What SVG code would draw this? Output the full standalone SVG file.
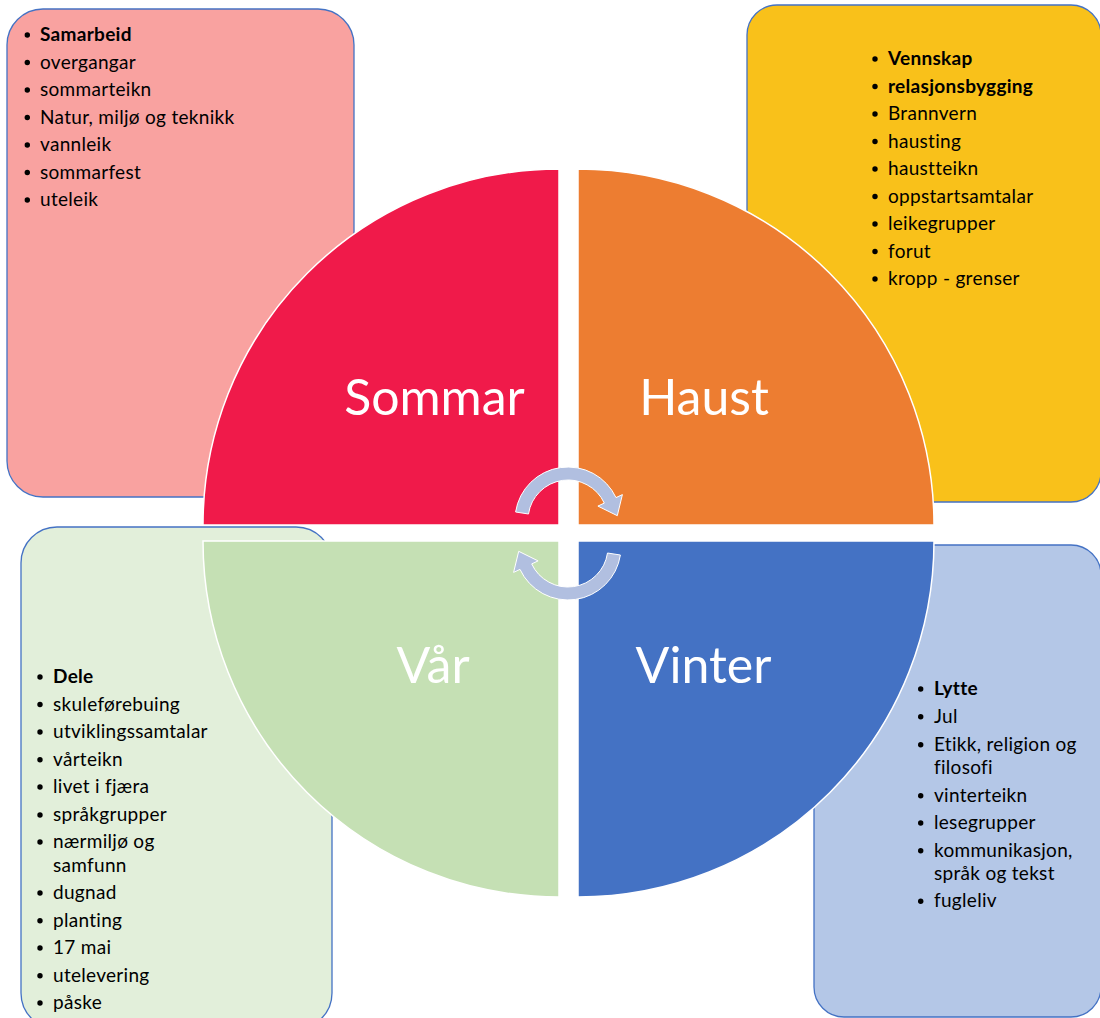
<svg xmlns="http://www.w3.org/2000/svg" width="1100" height="1018" viewBox="0 0 1100 1018">
<style>
.box{stroke:#4472C4;stroke-width:1.3}
.q{stroke:#FFFFFF;stroke-width:1.5}
.lst{font-family:Lato,"Liberation Sans",sans-serif;font-size:19px;letter-spacing:0.3px;fill:#000000}
.b{font-weight:bold}
.big{font-family:Lato,"Liberation Sans",sans-serif;font-size:50px;fill:#FFFFFF;text-anchor:middle}
.dot{fill:#000000}
.arr{fill:#B1BFE0;stroke:#FFFFFF;stroke-width:1}
</style>
<defs>
<path id="carrow" d="M 515.6 512 A 53 53 0 0 1 616 497.6 L 622.4 494.6 L 617.3 515.7 L 597.9 506.1 L 604.3 503.1 A 40 40 0 0 0 528.5 514 Z"/>
</defs>
<g id="sommar-box">
<rect class="box" x="7" y="9" width="347" height="488" rx="36" ry="36" fill="#F9A2A0"/>
<g class="lst">
<circle class="dot" cx="27.3" cy="35" r="2.7"/><text x="40" y="41" class="b">Samarbeid</text>
<circle class="dot" cx="27.3" cy="62.5" r="2.7"/><text x="40" y="68.5">overgangar</text>
<circle class="dot" cx="27.3" cy="90" r="2.7"/><text x="40" y="96">sommarteikn</text>
<circle class="dot" cx="27.3" cy="117.5" r="2.7"/><text x="40" y="123.5">Natur, miljø og teknikk</text>
<circle class="dot" cx="27.3" cy="145" r="2.7"/><text x="40" y="151">vannleik</text>
<circle class="dot" cx="27.3" cy="172.5" r="2.7"/><text x="40" y="178.5">sommarfest</text>
<circle class="dot" cx="27.3" cy="200" r="2.7"/><text x="40" y="206">uteleik</text>
</g>
</g>
<g id="haust-box">
<rect class="box" x="747" y="5" width="354" height="497" rx="30" ry="30" fill="#F9C11A"/>
<g class="lst">
<circle class="dot" cx="875" cy="59" r="2.7"/><text x="888" y="65" class="b">Vennskap</text>
<circle class="dot" cx="875" cy="86.5" r="2.7"/><text x="888" y="92.5" class="b">relasjonsbygging</text>
<circle class="dot" cx="875" cy="114" r="2.7"/><text x="888" y="120">Brannvern</text>
<circle class="dot" cx="875" cy="141.5" r="2.7"/><text x="888" y="147.5">hausting</text>
<circle class="dot" cx="875" cy="169" r="2.7"/><text x="888" y="175">haustteikn</text>
<circle class="dot" cx="875" cy="196.5" r="2.7"/><text x="888" y="202.5">oppstartsamtalar</text>
<circle class="dot" cx="875" cy="224" r="2.7"/><text x="888" y="230">leikegrupper</text>
<circle class="dot" cx="875" cy="251.5" r="2.7"/><text x="888" y="257.5">forut</text>
<circle class="dot" cx="875" cy="279" r="2.7"/><text x="888" y="285">kropp - grenser</text>
</g>
</g>
<g id="var-box">
<rect class="box" x="21" y="527" width="311" height="502" rx="36" ry="36" fill="#E2EFDA"/>
<g class="lst">
<circle class="dot" cx="40" cy="677" r="2.7"/><text x="53" y="683" class="b">Dele</text>
<circle class="dot" cx="40" cy="704.5" r="2.7"/><text x="53" y="710.5">skuleførebuing</text>
<circle class="dot" cx="40" cy="732" r="2.7"/><text x="53" y="738">utviklingssamtalar</text>
<circle class="dot" cx="40" cy="759.7" r="2.7"/><text x="53" y="765.7">vårteikn</text>
<circle class="dot" cx="40" cy="787" r="2.7"/><text x="53" y="793">livet i fjæra</text>
<circle class="dot" cx="40" cy="815" r="2.7"/><text x="53" y="821">språkgrupper</text>
<circle class="dot" cx="40" cy="842" r="2.7"/><text x="53" y="848">nærmiljø og</text>
<text x="53" y="871.7">samfunn</text>
<circle class="dot" cx="40" cy="893" r="2.7"/><text x="53" y="899">dugnad</text>
<circle class="dot" cx="40" cy="920.7" r="2.7"/><text x="53" y="926.7">planting</text>
<circle class="dot" cx="40" cy="948" r="2.7"/><text x="53" y="954">17 mai</text>
<circle class="dot" cx="40" cy="975.7" r="2.7"/><text x="53" y="981.7">utelevering</text>
<circle class="dot" cx="40" cy="1003" r="2.7"/><text x="53" y="1009">påske</text>
</g>
</g>
<g id="vinter-box">
<rect class="box" x="814" y="545" width="287" height="472" rx="30" ry="30" fill="#B4C7E7"/>
<g class="lst">
<circle class="dot" cx="920.7" cy="689" r="2.7"/><text x="934" y="695" class="b">Lytte</text>
<circle class="dot" cx="920.7" cy="716.7" r="2.7"/><text x="934" y="722.7">Jul</text>
<circle class="dot" cx="920.7" cy="744.7" r="2.7"/><text x="934" y="750.7">Etikk, religion og</text>
<text x="934" y="774">filosofi</text>
<circle class="dot" cx="920.7" cy="795.7" r="2.7"/><text x="934" y="801.7">vinterteikn</text>
<circle class="dot" cx="920.7" cy="823" r="2.7"/><text x="934" y="829">lesegrupper</text>
<circle class="dot" cx="920.7" cy="850.7" r="2.7"/><text x="934" y="856.7">kommunikasjon,</text>
<text x="934" y="880">språk og tekst</text>
<circle class="dot" cx="920.7" cy="901.3" r="2.7"/><text x="934" y="907.3">fugleliv</text>
</g>
</g>
<g id="sommar">
<path class="q" d="M 559 525 L 203 525 A 356 356 0 0 1 559 169 Z" fill="#F01A4A"/>
<text class="big" x="434.5" y="415">Sommar</text>
</g>
<g id="haust">
<path class="q" d="M 578 525 L 578 169 A 356 356 0 0 1 934 525 Z" fill="#ED7D31"/>
<text class="big" x="704" y="415">Haust</text>
</g>
<g id="var">
<path class="q" d="M 559 541 L 559 897 A 356 356 0 0 1 203 541 Z" fill="#C5E0B4"/>
<text class="big" x="433" y="683">Vår</text>
</g>
<g id="vinter">
<path class="q" d="M 578 541 L 934 541 A 356 356 0 0 1 578 897 Z" fill="#4472C4"/>
<text class="big" x="703.5" y="683">Vinter</text>
</g>
<g id="connectors">
<use href="#carrow" class="arr"/>
<use href="#carrow" class="arr" transform="rotate(180 568 533.5)"/>
</g>
</svg>
